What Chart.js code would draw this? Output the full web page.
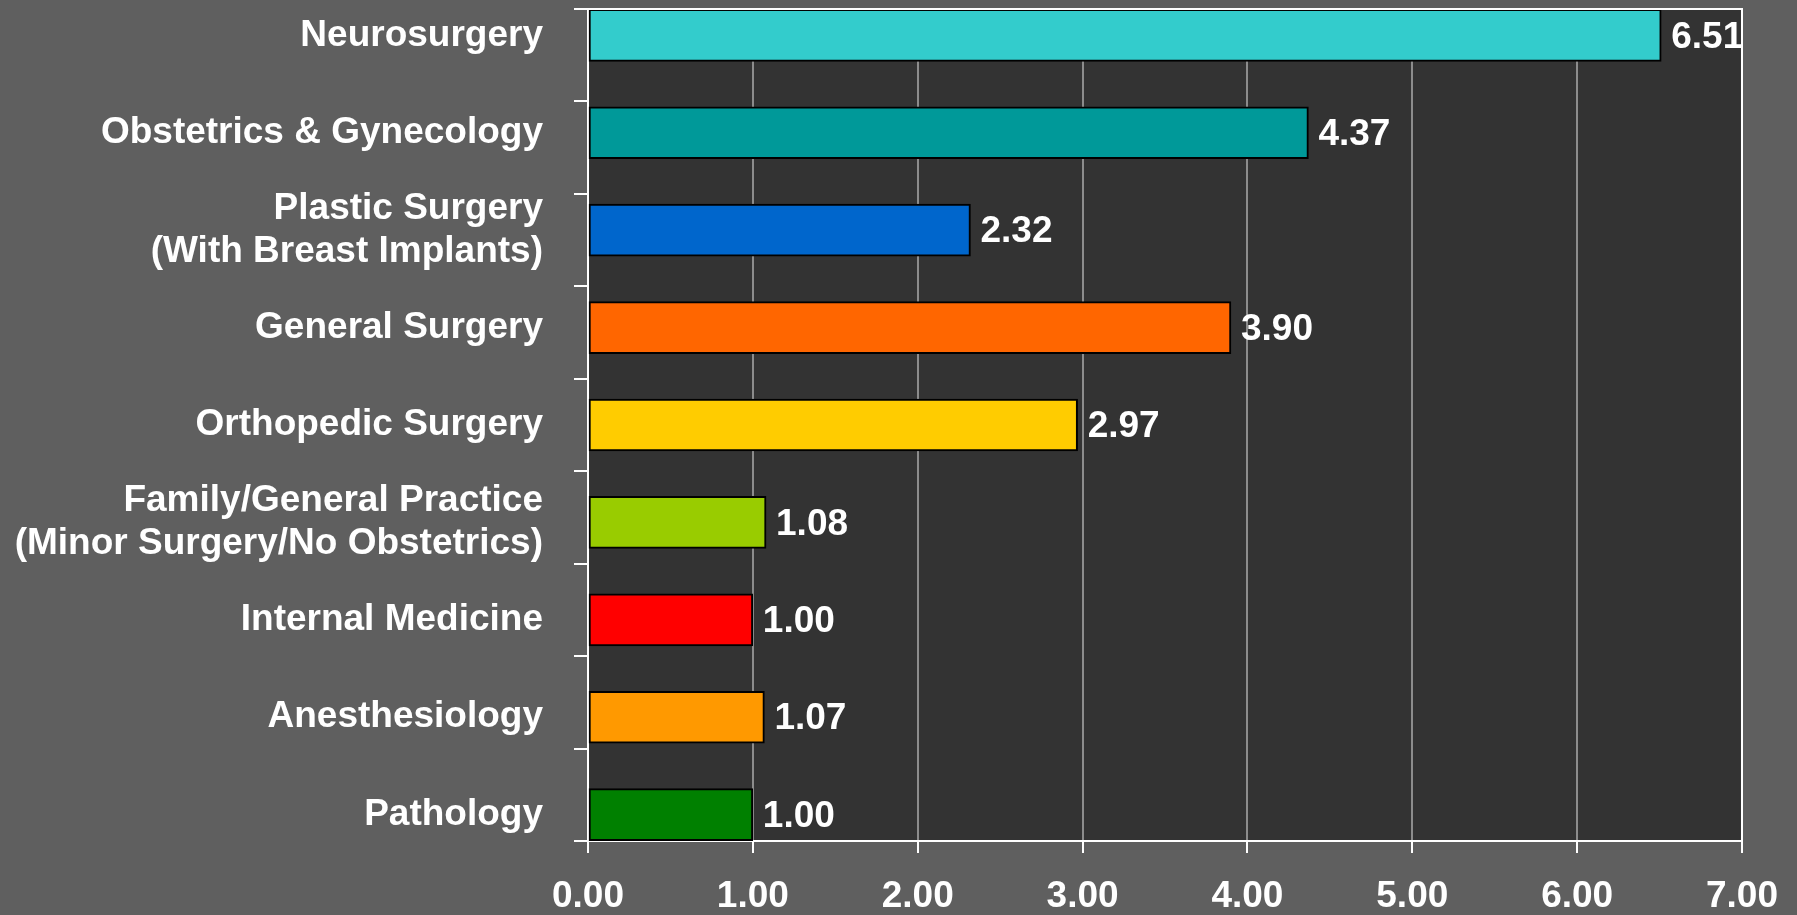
<!DOCTYPE html>
<html>
<head>
<meta charset="utf-8">
<script src="https://cdn.jsdelivr.net/npm/chart.js@4/dist/chart.umd.min.js"></script>
<style>
  html, body { margin: 0; padding: 0; background: #5f5f5f; }
  #wrap { width: 1797px; height: 915px; }
</style>
</head>
<body>
<div id="wrap"><canvas id="myChart"></canvas></div>
<script>
// specialties, top to bottom
const specialties = [
  "Neurosurgery",
  "Obstetrics & Gynecology",
  ["Plastic Surgery", "(With Breast Implants)"],
  "General Surgery",
  "Orthopedic Surgery",
  ["Family/General Practice", "(Minor Surgery/No Obstetrics)"],
  "Internal Medicine",
  "Anesthesiology",
  "Pathology",
];
const ratios = [6.51, 4.37, 2.32, 3.90, 2.97, 1.08, 1.00, 1.07, 1.00];
const barColors = ["#33cccc", "#009999", "#0066cc", "#ff6600", "#ffcc00", "#99cc00", "#ff0000", "#ff9900", "#008000"];
const xTicks = [0, 1, 2, 3, 4, 5, 6, 7];

const font = { family: "'Liberation Sans', Arial, sans-serif", size: 37, weight: "bold" };

// dark plot area + thin frame
const plotBg = {
  id: "plotBg",
  beforeDraw(chart) {
    const { ctx, chartArea: a } = chart;
    ctx.save();
    ctx.fillStyle = "#333333";
    ctx.fillRect(a.left, a.top, a.right - a.left, a.bottom - a.top);
    ctx.restore();
  },
  afterDraw(chart) {
    const { ctx, chartArea: a } = chart;
    ctx.save();
    ctx.strokeStyle = "#ffffff";
    ctx.lineWidth = 2;
    ctx.beginPath();
    ctx.moveTo(a.left, a.top);
    ctx.lineTo(a.right, a.top);
    ctx.lineTo(a.right, a.bottom);
    ctx.stroke();
    ctx.restore();
  },
};

// value labels at the end of each bar
const valueLabels = {
  id: "valueLabels",
  afterDatasetsDraw(chart) {
    const { ctx, chartArea: a } = chart;
    const meta = chart.getDatasetMeta(0);
    ctx.save();
    ctx.beginPath();
    ctx.rect(a.left, a.top, a.right - a.left, a.bottom - a.top);
    ctx.clip();
    ctx.fillStyle = "#ffffff";
    ctx.font = "bold 37px 'Liberation Sans', Arial, sans-serif";
    ctx.textAlign = "left";
    ctx.textBaseline = "middle";
    meta.data.forEach((bar, i) => {
      ctx.fillText(ratios[i].toFixed(2), bar.x + 10, bar.y + 2);
    });
    ctx.restore();
  },
};

function noPad(s) {
  s.paddingTop = 0;
  s.paddingBottom = 0;
  s.paddingLeft = 0;
  s.paddingRight = 0;
}

const ctx = document.getElementById("myChart");

new Chart(ctx, {
  type: "bar",
  data: {
    datasets: [
      {
        data: ratios.map((v, i) => ({ x: v, y: i })),
        backgroundColor: barColors,
        borderColor: "#000000",
        borderWidth: 2,
        borderSkipped: false,
        barThickness: 52,
        yAxisID: "y",
        xAxisID: "x",
      },
    ],
  },
  options: {
    indexAxis: "y",
    responsive: true,
    maintainAspectRatio: false,
    animation: false,
    layout: { padding: { top: 9, right: 55, left: 0, bottom: 0 } },
    plugins: { legend: { display: false }, tooltip: { enabled: false } },
    scales: {
      x: {
        type: "linear",
        position: "bottom",
        min: 0,
        max: 7,
        afterBuildTicks: (s) => { s.ticks = xTicks.map((v) => ({ value: v })); },
        afterFit: (s) => { s.height = 74; noPad(s); },
        ticks: {
          color: "#ffffff",
          font: font,
          padding: 22,
          maxRotation: 0,
          callback: (v) => Number(v).toFixed(2),
        },
        grid: { color: "#8c8c8c", lineWidth: 2, tickColor: "#ffffff", tickLength: 12 },
        border: { color: "#ffffff", width: 2 },
      },
      y: {
        type: "linear",
        position: "left",
        weight: 1,
        reverse: true,
        offset: false,
        min: -0.27,
        max: 8.27,
        afterBuildTicks: (s) => { s.ticks = specialties.map((c, i) => ({ value: i })); },
        afterFit: (s) => { s.width = 574; noPad(s); },
        ticks: {
          color: "#ffffff",
          font: { ...font, lineHeight: 1.18 },
          padding: 31,
          autoSkip: false,
          callback: (v) => specialties[v],
        },
        grid: { display: false, drawTicks: false, offset: false },
        border: { display: false },
      },
      yTicks: {
        type: "category",
        position: "left",
        weight: 0,
        labels: specialties.map((c, i) => String(i)),
        offset: true,
        afterFit: (s) => { s.width = 14; noPad(s); },
        ticks: { display: false },
        grid: { offset: true, drawOnChartArea: false, color: "#ffffff", lineWidth: 2, tickLength: 14 },
        border: { color: "#ffffff", width: 2 },
      },
    },
  },
  plugins: [plotBg, valueLabels],
});
</script>
</body>
</html>
